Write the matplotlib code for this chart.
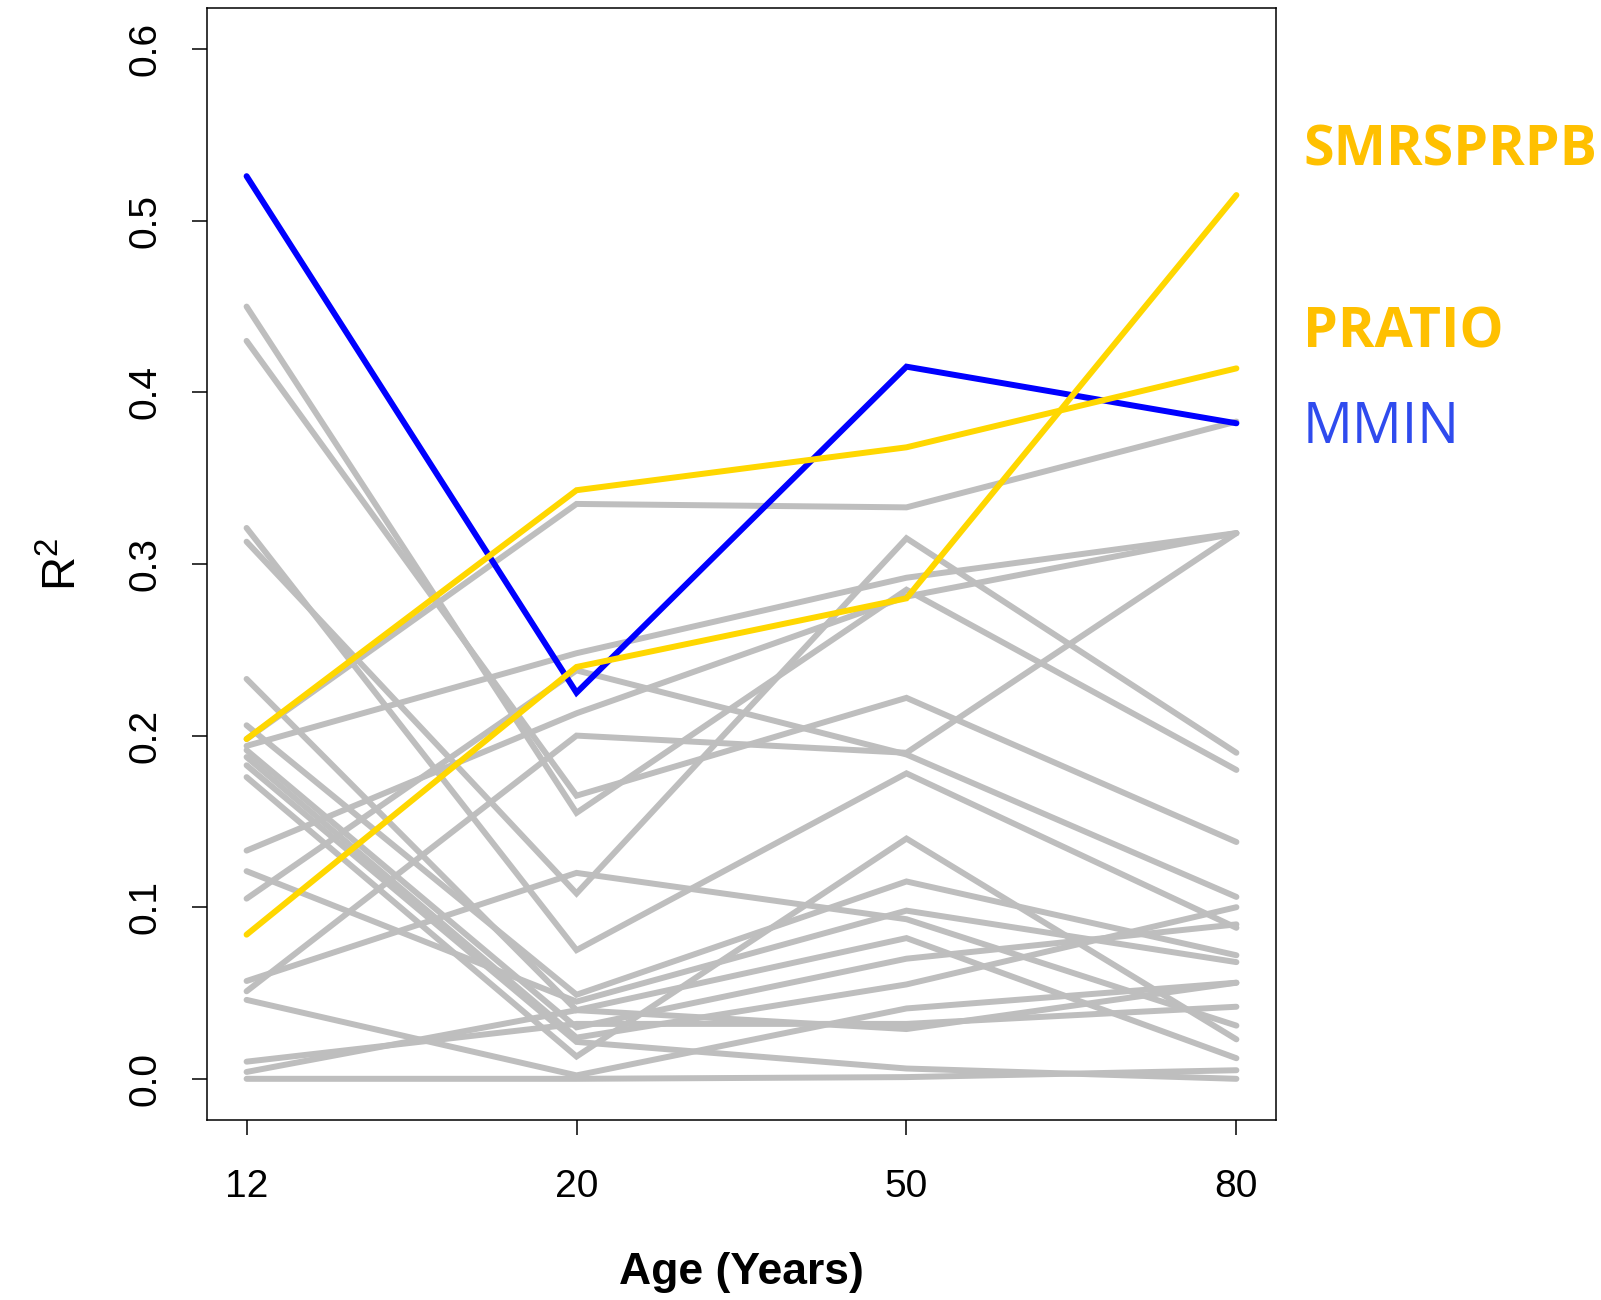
import matplotlib
matplotlib.use("Agg")
import matplotlib.pyplot as plt

# ages (categorical x) and R^2 per variable
ages = ["12", "20", "50", "80"]

mmin = [0.526, 0.225, 0.415, 0.382]
smrsprpb = [0.084, 0.240, 0.280, 0.515]
pratio = [0.198, 0.343, 0.368, 0.414]

# all other variables (drawn grey)
grey_lines = [
    [0.198, 0.335, 0.333, 0.383],
    [0.194, 0.248, 0.292, 0.318],
    [0.133, 0.213, 0.281, 0.318],
    [0.313, 0.108, 0.315, 0.190],
    [0.105, 0.238, 0.189, 0.106],
    [0.051, 0.200, 0.190, 0.318],
    [0.321, 0.075, 0.178, 0.088],
    [0.450, 0.155, 0.285, 0.180],
    [0.430, 0.165, 0.222, 0.138],
    [0.057, 0.120, 0.093, 0.031],
    [0.206, 0.049, 0.115, 0.072],
    [0.121, 0.045, 0.098, 0.068],
    [0.233, 0.040, 0.082, 0.012],
    [0.1915, 0.030, 0.070, 0.090],
    [0.1875, 0.024, 0.055, 0.100],
    [0.1827, 0.0215, 0.006, 0.000],
    [0.1758, 0.013, 0.140, 0.023],
    [0.046, 0.002, 0.041, 0.056],
    [0.010, 0.032, 0.032, 0.042],
    [0.004, 0.040, 0.029, 0.056],
    [0.000, 0.000, 0.001, 0.005],
]

labels = [("SMRSPRPB", "#FFC000", "bold", 166),
          ("PRATIO", "#FFC000", "bold", 347),
          ("MMIN", "#2F4BEE", "normal", 443)]

plt.rcParams["font.family"] = ["Liberation Sans", "DejaVu Sans"]
plt.rcParams["mathtext.fontset"] = "custom"
plt.rcParams["mathtext.rm"] = "Liberation Sans"
plt.rcParams["mathtext.it"] = "Liberation Sans"

W, H = 1601, 1300
fig = plt.figure(figsize=(W / 100, H / 100), dpi=100)
ax = fig.add_axes([207 / W, (H - 1120) / H, (1276 - 207) / W, (1120 - 8) / H])

x = list(range(1, len(ages) + 1))
kw = dict(lw=4.3, solid_capstyle="round", solid_joinstyle="miter")
for ys in grey_lines:
    ax.plot(x, ys, color="#BEBEBE", **kw)
ax.plot(x, mmin, color="#0000FF", **kw)
ax.plot(x, smrsprpb, color="#FFD700", **kw)
ax.plot(x, pratio, color="#FFD700", **kw)

ax.set_xlim(0.88, 4.12)
ax.set_ylim(-0.024, 0.624)
ax.set_xticks(x)
ax.set_xticklabels(ages)
ax.set_yticks([0.0, 0.1, 0.2, 0.3, 0.4, 0.5, 0.6])
ax.set_yticklabels(["0.0", "0.1", "0.2", "0.3", "0.4", "0.5", "0.6"],
                   rotation=90, va="center")
ax.tick_params(axis="both", labelsize=28, length=11, width=1.1)
ax.tick_params(axis="x", pad=24)
ax.tick_params(axis="y", pad=20)
for sp in ax.spines.values():
    sp.set_linewidth(1.1)

ax.set_xlabel("Age (Years)", fontsize=32, fontweight="bold", labelpad=34)
ax.set_ylabel(r"R$^2$", fontsize=34, labelpad=30)

for text, col, weight, base in labels:
    fig.text(1303 / W, 1 - base / H, text, color=col, fontsize=40,
             fontweight=weight, family=["Open Sans", "DejaVu Sans"],
             va="baseline", ha="left")

fig.savefig("out.png", dpi=100)
